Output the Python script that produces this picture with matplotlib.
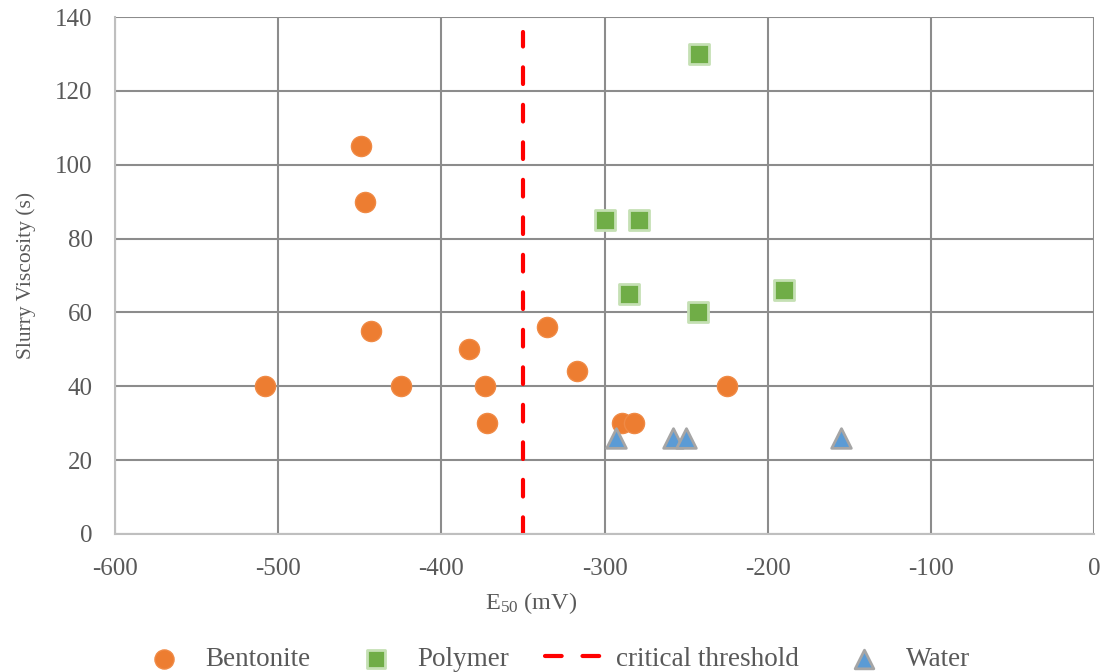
import matplotlib.pyplot as plt
import matplotlib.ticker as mticker

plt.rcParams['font.family'] = ['Liberation Serif', 'DejaVu Serif']
plt.rcParams['axes.unicode_minus'] = False
plt.rcParams['mathtext.fontset'] = 'custom'
plt.rcParams['mathtext.rm'] = 'Liberation Serif'

bent_x = [-508, -449, -447, -443, -425, -383, -373, -372, -335, -317, -289, -282, -225]
bent_y = [40, 105, 90, 55, 40, 50, 40, 30, 56, 44, 30, 30, 40]
poly_x = [-242, -300, -279, -285, -243, -190]
poly_y = [130, 85, 85, 65, 60, 66]
water_x = [-293, -258, -250, -155]
water_y = [26, 26, 26, 26]
thr_x = [-350, -350]
thr_y = [0, 136]

txt = '#595959'
grid = '#8c8c8c'

fig = plt.figure(figsize=(11.04, 6.72), dpi=100)
ax = fig.add_axes([0.1042, 0.2054, 0.8868, 0.7693])

ax.scatter(bent_x, bent_y, s=210, marker='o', color='#ED7D31', edgecolors='#F08A45',
           linewidths=1, zorder=3, label='Bentonite')
ax.scatter(poly_x, poly_y, s=190, marker='s', color='#70AD47', edgecolors='#C5E0B4',
           linewidths=2, zorder=3, label='Polymer')
ax.plot(thr_x, thr_y, color='#FF0000', lw=3, dashes=(4, 5), dash_capstyle='round',
        zorder=2, label='critical threshold')
ax.scatter(water_x, water_y, s=200, marker='^', color='#5B9BD5', edgecolors='#A5A5A5',
           linewidths=2, zorder=3, label='Water')

ax.set_xlim(-600, 0)
ax.set_ylim(0, 140)
ax.xaxis.set_major_locator(mticker.MultipleLocator(100))
ax.yaxis.set_major_locator(mticker.MultipleLocator(20))
ax.grid(True, color=grid, lw=1.5, zorder=0)
ax.set_axisbelow(True)
for s in ['top', 'right']:
    ax.spines[s].set_visible(False)
for s in ['left', 'bottom']:
    ax.spines[s].set_color('#bfbfbf')
    ax.spines[s].set_linewidth(1.5)
ax.tick_params(axis='x', length=0, labelsize=18, labelcolor=txt, pad=17)
ax.tick_params(axis='y', length=0, labelsize=18, labelcolor=txt, pad=16)

fig.text(531 / 1104, 1 - 603 / 672, r'$\mathregular{E_{50}}$ (mV)', fontsize=17.5,
         color=txt, ha='center', va='center')
ax.set_ylabel('Slurry Viscosity (s)', fontsize=15.5, color=txt, labelpad=14)

fig.legend(*ax.get_legend_handles_labels(), loc='center', bbox_to_anchor=(0.5, 0.019),
           ncol=4, frameon=False, fontsize=19.5, labelcolor=txt, columnspacing=1.35,
           handletextpad=0.45, markerscale=0.95, handlelength=2.15)

fig.savefig('out.png', dpi=100)
